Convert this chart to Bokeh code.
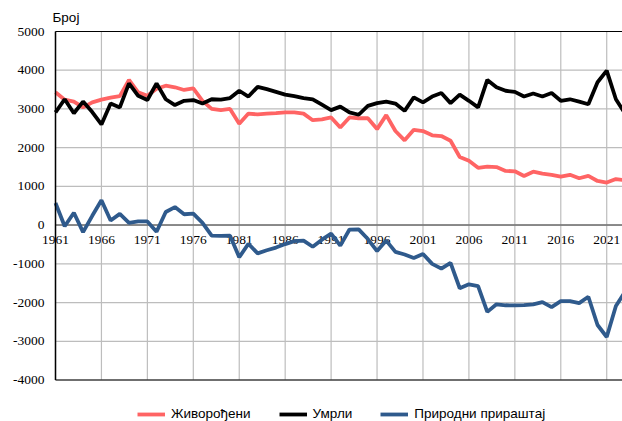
from bokeh.plotting import figure
from bokeh.models import (Range1d, LabelSet, Label, ColumnDataSource, Legend, LegendItem)
from bokeh.embed import file_html
from bokeh.resources import INLINE

FONT = "Liberation Sans"

years = list(range(1961, 2024))

births = [3430, 3240, 3190, 3040, 3170, 3240, 3290, 3330, 3750, 3430,
          3340, 3520, 3600, 3560, 3490, 3530, 3210, 3000, 2970, 3000,
          2620, 2880, 2860, 2880, 2890, 2910, 2910, 2880, 2710, 2730,
          2780, 2520, 2780, 2760, 2760, 2480, 2840, 2430, 2190, 2460,
          2430, 2320, 2300, 2180, 1760, 1660, 1480, 1510, 1500, 1400,
          1390, 1270, 1380, 1330, 1300, 1250, 1300, 1210, 1270, 1140,
          1100, 1190, 1160]

deaths = [2910, 3250, 2890, 3190, 2920, 2600, 3140, 3040, 3660, 3340,
          3230, 3660, 3250, 3100, 3210, 3230, 3140, 3250, 3240, 3280,
          3470, 3320, 3570, 3510, 3440, 3370, 3330, 3280, 3250, 3110,
          2970, 3060, 2910, 2850, 3080, 3150, 3190, 3140, 2950, 3300,
          3170, 3320, 3410, 3150, 3370, 3210, 3040, 3750, 3560, 3470,
          3440, 3320, 3400, 3320, 3410, 3210, 3250, 3190, 3120, 3690,
          3990, 3250, 2880]

natural = [570, -30, 320, -180, 240, 640, 120, 290, 60, 95,
           95, -170, 340, 465, 280, 295, 60, -270, -280, -275,
           -830, -480, -730, -650, -580, -490, -415, -400, -560, -375,
           -220, -530, -115, -110, -360, -670, -400, -690, -760, -850,
           -745, -1000, -1125, -975, -1630, -1530, -1575, -2240, -2045, -2070,
           -2075, -2065, -2045, -1990, -2120, -1965, -1965, -2015, -1850, -2580,
           -2890, -2090, -1720]

series_names = ["Живорођени", "Умрли", "Природни прираштај"]
series_colors = ["#ff6464", "#000000", "#2f5a8c"]
y_title = "Број"

x_ticks = list(range(1961, 2022, 5))
y_ticks = list(range(-4000, 5001, 1000))
y_min, y_max = -4000, 5000

# Layout geometry (pixels)
W, H = 622, 421
plot_left, plot_top, plot_bottom = 55, 31, 379.5
px_per_year = 9.187
px_per_unit = (plot_bottom - plot_top) / (y_max - y_min)

x0 = x_ticks[0] - plot_left / px_per_year
x1 = x_ticks[0] + (W - plot_left) / px_per_year
y_top = y_max + plot_top / px_per_unit
y_bot = y_max - (H - plot_top) / px_per_unit

p = figure(width=W, height=H, output_backend="svg", toolbar_location=None,
           x_range=Range1d(x0, x1), y_range=Range1d(y_bot, y_top),
           min_border=0)
p.outline_line_color = None
p.xaxis.visible = False
p.yaxis.visible = False
p.xgrid.visible = False
p.ygrid.visible = False

GRID = "#bdbdbd"
# vertical grid lines
p.segment(x0=x_ticks, x1=x_ticks, y0=[y_min] * len(x_ticks), y1=[y_max] * len(x_ticks),
          line_color=GRID, line_width=1.2)
# horizontal grid lines
p.segment(x0=[x_ticks[0]] * len(y_ticks), x1=[x1] * len(y_ticks), y0=y_ticks, y1=y_ticks,
          line_color=GRID, line_width=1.2)
# frame borders (top / bottom) and zero line
p.segment(x0=[x_ticks[0]] * 2, x1=[x1] * 2, y0=[y_min, y_max], y1=[y_min, y_max],
          line_color="#000000", line_width=1.2)
p.segment(x0=[x_ticks[0]], x1=[x1], y0=[0], y1=[0], line_color="#707070", line_width=1.5)

# x tick labels along the zero line (under the lines)
xl_src = ColumnDataSource(dict(x=x_ticks, y=[0] * len(x_ticks), t=[str(v) for v in x_ticks]))
p.add_layout(LabelSet(x="x", y="y", text="t", source=xl_src, y_offset=-15,
                      text_align="center", text_baseline="middle",
                      text_font=FONT, text_font_size="13.5px", text_color="#000000",
                      level="underlay"))

# y tick labels
yl_src = ColumnDataSource(dict(x=[x_ticks[0]] * len(y_ticks), y=y_ticks, t=[str(v) for v in y_ticks]))
p.add_layout(LabelSet(x="x", y="y", text="t", source=yl_src, x_offset=-11,
                      text_align="right", text_baseline="middle",
                      text_font=FONT, text_font_size="13.5px", text_color="#000000"))

# y axis title
p.add_layout(Label(x=x_ticks[0], y=y_max, text=y_title, x_offset=-3, y_offset=14,
                   text_align="left", text_baseline="middle",
                   text_font=FONT, text_font_size="13.5px", text_color="#000000"))

renderers = []
for data, color in zip([births, deaths, natural], series_colors):
    r = p.line(years, data, line_color=color, line_width=3.8)
    renderers.append(r)

# left axis line
p.segment(x0=[x_ticks[0]], x1=[x_ticks[0]], y0=[y_min], y1=[y_max],
          line_color="#000000", line_width=1.5)

legend = Legend(items=[LegendItem(label=n, renderers=[r]) for n, r in zip(series_names, renderers)],
                location=(137, 0), orientation="horizontal",
                glyph_width=28, glyph_height=14, label_height=14,
                label_standoff=6, spacing=28, padding=0, margin=0,
                border_line_color=None, background_fill_alpha=0,
                label_text_font=FONT, label_text_font_size="13.5px",
                label_text_color="#000000")
p.add_layout(legend)

open("out.html", "w").write(file_html(p, INLINE))
